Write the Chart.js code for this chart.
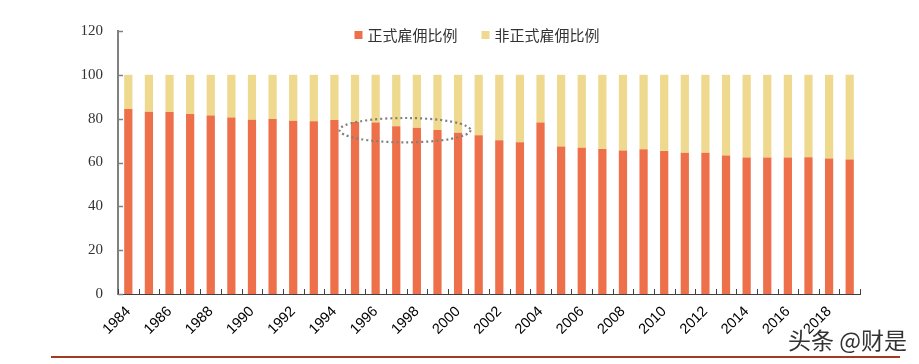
<!DOCTYPE html>
<html>
<head>
<meta charset="utf-8">
<script src="https://cdn.jsdelivr.net/npm/chart.js@4.4.1/dist/chart.umd.min.js"></script>
<style>
html,body{margin:0;padding:0;background:#fff;}
#wrap{position:relative;width:919px;height:364px;}
canvas{display:block;}
</style>
</head>
<body>
<div id="wrap"><canvas id="c" width="919" height="364"></canvas></div>
<script>
// ---- data ----
const years = ['1984','1985','1986','1987','1988','1989','1990','1991','1992','1993','1994','1995',
  '1996','1997','1998','1999','2000','2001','2002','2003','2004','2005',
  '2006','2007','2008','2009','2010','2011','2012','2013','2014','2015','2016','2017','2018','2019'];
const formalShare = [84.4,83.2,83.0,82.1,81.4,80.5,79.5,79.8,79.1,78.8,79.4,78.5,
  78.2,76.5,75.9,74.8,73.6,72.4,70.2,69.2,78.2,67.3,
  66.7,66.2,65.5,66.1,65.3,64.5,64.5,63.2,62.3,62.3,62.3,62.4,61.8,61.4];
const informalShare = [15.6,16.8,17.0,17.9,18.6,19.5,20.5,20.2,20.9,21.2,20.6,21.5,
  21.8,23.5,24.1,25.2,26.4,27.6,29.8,30.8,21.8,32.7,
  33.3,33.8,34.5,33.9,34.7,35.5,35.5,36.8,37.7,37.7,37.7,37.6,38.2,38.6];
const seriesNames = ['正式雇佣比例','非正式雇佣比例'];
const yTicks = [0,20,40,60,80,100,120];
// highlighted region (category index range, value range)
const highlightX = [10.25, 16.6];
const highlightY = [69.2, 80.3];
const watermark = '头条 @财是';

const COLORS = ['#EE704B','#EED98E'];

const decor = {
  id:'decor',
  afterDatasetsDraw(chart){
    const {ctx, chartArea:a, scales:{x,y}} = chart;
    ctx.save();
    ctx.strokeStyle = '#808080'; ctx.lineWidth = 1.5;
    yTicks.forEach(v=>{
      const py = Math.round(y.getPixelForValue(v))+0.5;
      ctx.beginPath(); ctx.moveTo(a.left, py); ctx.lineTo(a.left+5, py); ctx.stroke();
    });
    ctx.strokeStyle = '#404040'; ctx.lineWidth = 1;
    const n = years.length;
    for(let i=0;i<=n;i++){
      const px = Math.round(a.left + (a.right-a.left)*i/n)+0.5;
      ctx.beginPath(); ctx.moveTo(px, a.bottom); ctx.lineTo(px, a.bottom-5); ctx.stroke();
    }
    const x0 = x.getPixelForValue(highlightX[0]), x1 = x.getPixelForValue(highlightX[1]);
    const y0 = y.getPixelForValue(highlightY[1]), y1 = y.getPixelForValue(highlightY[0]);
    ctx.strokeStyle = '#7f7f7f'; ctx.lineWidth = 2.2; ctx.setLineDash([2,3]);
    ctx.beginPath();
    ctx.ellipse((x0+x1)/2,(y0+y1)/2,(x1-x0)/2,(y1-y0)/2,0,0,Math.PI*2);
    ctx.stroke();
    ctx.setLineDash([]);
    ctx.restore();
  },
  afterDraw(chart){
    const ctx = chart.ctx;
    ctx.save();
    ctx.font = '15px "Noto Sans CJK SC", sans-serif';
    ctx.textBaseline = 'middle';
    const box = 8, gapT = 5, gapItem = 24;
    const widths = seriesNames.map(s=>ctx.measureText(s).width);
    const total = widths.reduce((s,w)=>s+box+gapT+w,0)+gapItem*(seriesNames.length-1);
    let lx = 477 - total/2; const ly = 35;
    seriesNames.forEach((s,i)=>{
      ctx.fillStyle = COLORS[i];
      ctx.fillRect(lx, ly-4, box, box);
      ctx.fillStyle = '#333';
      ctx.fillText(s, lx+box+gapT, ly);
      lx += box+gapT+widths[i]+gapItem;
    });
    ctx.strokeStyle = '#A53A22'; ctx.lineWidth = 2;
    ctx.beginPath(); ctx.moveTo(51, 357); ctx.lineTo(900, 357); ctx.stroke();
    ctx.font = '23px "Noto Sans CJK SC", sans-serif';
    ctx.textAlign = 'right'; ctx.textBaseline = 'middle';
    ctx.lineWidth = 3; ctx.strokeStyle = '#ffffff';
    ctx.strokeText(watermark, 907, 340);
    ctx.fillStyle = '#333';
    ctx.fillText(watermark, 907, 340);
    ctx.restore();
  }
};

new Chart(document.getElementById('c'), {
  type:'bar',
  data:{
    labels: years,
    datasets:[
      {label:seriesNames[0], data:formalShare, backgroundColor:COLORS[0], barPercentage:0.4, categoryPercentage:1},
      {label:seriesNames[1], data:informalShare, backgroundColor:COLORS[1], barPercentage:0.4, categoryPercentage:1}
    ]
  },
  options:{
    responsive:false, animation:false,
    layout:{padding:{left:0,right:59,top:31,bottom:0}},
    plugins:{legend:{display:false}, tooltip:{enabled:false}},
    scales:{
      x:{
        stacked:true,
        grid:{display:false, drawTicks:false},
        border:{display:true, color:'#404040', width:1},
        ticks:{
          autoSkip:false, minRotation:45, maxRotation:45, padding:9,
          color:'#000', font:{family:'"Liberation Sans", Arial, sans-serif', size:14.5},
          callback:function(v,i){ const l=years[i]; return (parseInt(l)%2===0)? l : ''; }
        },
        afterFit:s=>{s.height=70;}
      },
      y:{
        stacked:true, min:0, max:120,
        grid:{display:false, drawTicks:false},
        border:{display:true, color:'#808080', width:2},
        ticks:{stepSize:20, padding:15, color:'#333',
          font:{family:'"Liberation Serif", "Times New Roman", serif', size:15}},
        afterFit:s=>{s.width=118;}
      }
    }
  },
  plugins:[decor]
});
</script>
</body>
</html>
